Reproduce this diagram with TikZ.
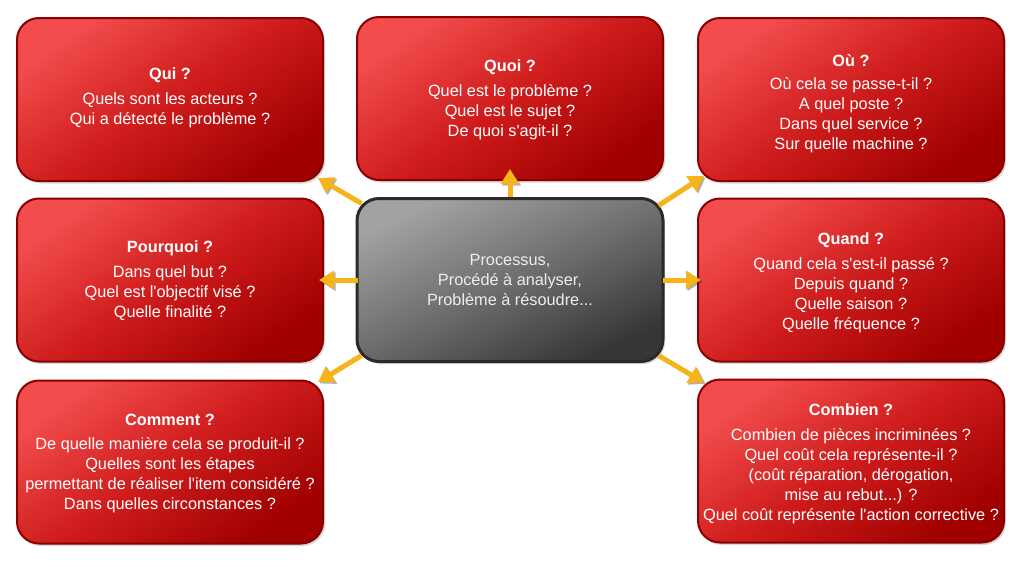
\documentclass[tikz,border=0pt]{standalone}
\usepackage{fontspec}
\setmainfont{Liberation Sans}[Ligatures=TeXOff]
\usetikzlibrary{arrows.meta,shadows}
\definecolor{redlight}{HTML}{F24C4C}
\definecolor{redmid}{HTML}{CF1C1C}
\definecolor{reddark}{HTML}{A00000}
\definecolor{redborder}{HTML}{880000}
\definecolor{graylight}{HTML}{A2A2A2}
\definecolor{graymid}{HTML}{6E6E6E}
\definecolor{graydark}{HTML}{363636}
\definecolor{grayborder}{HTML}{2A2A2A}
\definecolor{arrowcol}{HTML}{F5B31C}
\definecolor{centertext}{HTML}{EDEDED}
\begin{document}
\begin{tikzpicture}[x=1pt,y=-1pt,
  redbox/.style={rectangle, rounded corners=22pt, minimum width=306pt, minimum height=163pt,
    draw=redborder, line width=2pt, top color=redlight, bottom color=reddark, middle color=redmid,
    shading angle=35, drop shadow={opacity=0.3, shadow xshift=2pt, shadow yshift=-2.5pt}, inner sep=0pt},
  graybox/.style={rectangle, rounded corners=22pt, minimum width=306pt, minimum height=163pt,
    draw=grayborder, line width=3pt, top color=graylight, bottom color=graydark, middle color=graymid,
    shading angle=25, drop shadow={opacity=0.3, shadow xshift=2pt, shadow yshift=-2.5pt}, inner sep=0pt},
  txt/.style={align=center, text=white, font=\fontsize{16.3}{20}\selectfont, inner sep=0pt},
  ctxt/.style={txt, text=centertext},
  arr/.style={draw=arrowcol, line width=5pt, -{Triangle[length=15pt,width=18pt]},
    preaction={draw=black, opacity=0.3, transform canvas={xshift=1.5pt, yshift=-1.5pt}}}
]
\useasboundingbox (0,0) rectangle (1022,566);
% boxes
\node[redbox] (qui) at (170,99.5) {};
\node[redbox] (quoi) at (510,98.5) {};
\node[redbox] (ou) at (851,99.5) {};
\node[redbox] (pourquoi) at (170,280) {};
\node[graybox] (centre) at (510,280) {};
\node[redbox] (quand) at (851,280) {};
\node[redbox] (comment) at (170,462) {};
\node[redbox] (combien) at (851,461) {};
% texts
\node[txt] (tqui) at (170,98) {\textbf{Qui ?}\\[5.5pt]Quels sont les acteurs ?\\Qui a détecté le problème ?};
\node[txt] (tquoi) at (510,100) {\textbf{Quoi ?}\\[5.5pt]Quel est le problème ?\\Quel est le sujet ?\\De quoi s'agit-il ?};
\node[txt] (tou) at (851,103.5) {\textbf{Où ?}\\[3.5pt]Où cela se passe-t-il ?\\A quel poste ?\\Dans quel service ?\\Sur quelle machine ?};
\node[txt] (tpourquoi) at (170,280.8) {\textbf{Pourquoi ?}\\[5.5pt]Dans quel but ?\\Quel est l'objectif visé ?\\Quelle finalité ?};
\node[ctxt] (tcentre) at (510,279.8) {Processus,\\Procédé à analyser,\\Problème à résoudre...};
\node[txt] (tquand) at (851,282.3) {\textbf{Quand ?}\\[5pt]Quand cela s'est-il passé ?\\Depuis quand ?\\Quelle saison ?\\Quelle fréquence ?};
\node[txt] (tcomment) at (170,463.5) {\textbf{Comment ?}\\[4pt]De quelle manière cela se produit-il ?\\Quelles sont les étapes\\permettant de réaliser l'item considéré ?\\Dans quelles circonstances ?};
\node[txt] (tcombien) at (851,463.3) {\textbf{Combien ?}\\[5pt]Combien de pièces incriminées ?\\Quel coût cela représente-il ?\\(coût réparation, dérogation,\\mise au rebut...) ?\\Quel coût représente l'action corrective ?};
% arrows
\draw[arr] ([shift={(6,6.5)}]centre.north west) -- ([shift={(-6,-4)}]qui.south east);
\draw[arr] (centre.north) -- ([shift={(0,-12)}]quoi.south);
\draw[arr] ([shift={(-6,8.5)}]centre.north east) -- ([shift={(7,-6)}]ou.south west);
\draw[arr] ([shift={(2,0)}]centre.west) -- ([shift={(-5,0)}]pourquoi.east);
\draw[arr] ([shift={(-2,0)}]centre.east) -- ([shift={(4,0)}]quand.west);
\draw[arr] ([shift={(6,-7.5)}]centre.south west) -- ([shift={(-6,2.5)}]comment.north east);
\draw[arr] ([shift={(-6,-7.5)}]centre.south east) -- ([shift={(7,4)}]combien.north west);
\end{tikzpicture}
\end{document}
